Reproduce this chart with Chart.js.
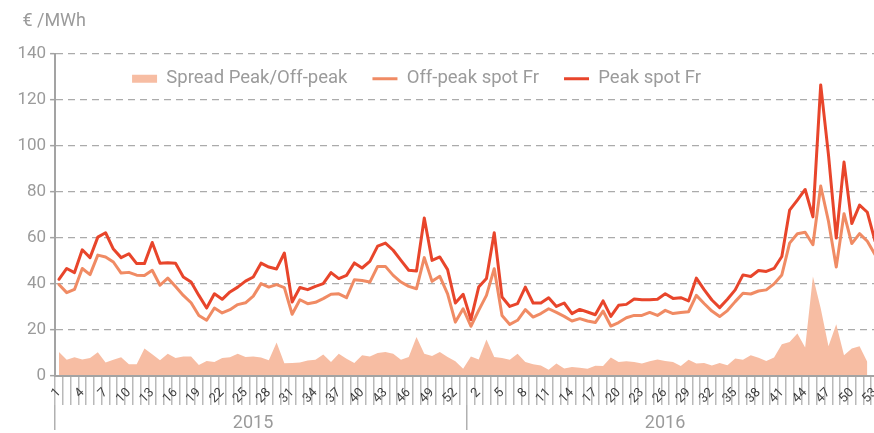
<!DOCTYPE html>
<html>
<head>
<meta charset="utf-8">
<script src="https://cdn.jsdelivr.net/npm/chart.js@4.4.1/dist/chart.umd.min.js"></script>
<style>
  html, body { margin: 0; padding: 0; background: #ffffff; overflow: hidden; }
  #wrap { width: 879px; height: 433px; }
</style>
</head>
<body>
<div id="wrap"><canvas id="c" width="879" height="433"></canvas></div>
<script>
// ---- categories / tick labels ----
const WEEKS_2015 = ['1','2','3','4','5','6','7','8','9','10','11','12','13','14','15','16','17','18','19','20',
  '21','22','23','24','25','26','27','28','29','30','31','32','33','34','35','36','37','38','39','40',
  '41','42','43','44','45','46','47','48','49','50','51','52','53'];
const WEEKS_2016 = ['1','2','3','4','5','6','7','8','9','10','11','12','13','14','15','16','17','18','19','20',
  '21','22','23','24','25','26','27','28','29','30','31','32','33','34','35','36','37','38','39','40',
  '41','42','43','44','45','46','47','48','49','50','51','52','53'];
const YEARS = ['2015', '2016'];
const Y_TICKS = [0, 20, 40, 60, 80, 100, 120, 140];
const UNIT = '€ /MWh';

// ---- series values (€/MWh) ----
const PEAK = [
  42.0, 46.7, 44.9, 54.8, 51.4, 60.3, 62.2, 55.1, 51.4, 53.1,
  48.8, 48.8, 58.0, 49.0, 49.2, 49.0, 43.0, 40.8, 35.0, 29.5,
  35.7, 33.3, 36.5, 38.6, 41.2, 43.0, 49.0, 47.3, 46.5, 53.4,
  32.1, 38.4, 37.5, 38.9, 40.1, 44.9, 42.3, 43.7, 49.1, 46.9,
  49.8, 56.4, 57.7, 54.6, 50.2, 45.9, 45.6, 68.6, 50.2, 51.7,
  46.2, 31.7, 35.5, 24.5, 38.6, 42.3, 62.2, 34.3, 30.2, 31.4,
  38.6, 31.7, 31.7, 34.0, 30.2, 31.7, 27.1, 28.9, 27.8, 26.6,
  32.6, 25.9, 30.7, 31.1, 33.4, 33.1, 33.1, 33.3, 35.7, 33.7,
  34.0, 32.6, 42.5, 37.5, 33.0, 29.7, 33.3, 37.4, 43.9, 43.2,
  45.8, 45.4, 46.7, 51.9, 72.0, 76.4, 81.0, 69.1, 126.4, 96.0,
  59.9, 92.9, 66.2, 74.2, 71.1, 58.5
];
const OFFPEAK = [
  39.7, 36.2, 37.6, 46.7, 44.0, 52.5, 51.7, 49.5, 44.7, 45.0,
  43.8, 43.6, 45.9, 39.4, 42.5, 38.9, 35.0, 31.8, 26.3, 24.2,
  29.5, 27.4, 28.8, 31.0, 31.8, 34.7, 40.1, 38.6, 39.7, 38.4,
  26.8, 33.1, 31.4, 32.0, 33.6, 35.5, 35.7, 34.0, 41.8, 41.5,
  40.8, 47.6, 47.6, 43.7, 40.8, 38.9, 37.9, 51.4, 41.1, 43.3,
  35.7, 23.4, 29.2, 21.6, 28.5, 35.0, 46.6, 26.3, 22.4, 24.2,
  28.8, 25.6, 27.1, 29.2, 27.6, 25.9, 23.9, 24.9, 23.9, 23.2,
  28.2, 21.7, 23.2, 25.3, 26.3, 26.3, 27.6, 26.3, 28.5, 27.1,
  27.6, 27.9, 35.0, 31.5, 28.2, 25.8, 28.4, 32.3, 35.9, 35.6,
  36.9, 37.4, 40.0, 43.9, 57.7, 61.8, 62.4, 57.0, 82.5, 67.2,
  47.3, 70.5, 57.5, 61.8, 58.5, 52.7
];
const SPREAD = [
  10.4, 7.1, 8.1, 7.2, 7.8, 10.3, 5.9, 7.1, 8.1, 5.1,
  5.1, 11.9, 9.4, 6.8, 9.7, 7.8, 8.5, 8.5, 4.8, 6.5,
  6.1, 7.8, 8.1, 9.7, 8.2, 8.5, 8.0, 6.8, 14.5, 5.5,
  5.6, 5.9, 6.7, 7.1, 9.3, 6.1, 9.7, 7.5, 5.6, 9.0,
  8.5, 10.0, 10.4, 9.7, 7.1, 8.2, 16.9, 9.7, 8.7, 10.4,
  8.2, 6.4, 3.2, 8.5, 7.2, 15.8, 8.2, 7.8, 7.1, 9.7,
  6.1, 5.1, 4.6, 2.7, 5.4, 3.3, 3.9, 3.6, 3.2, 4.5,
  4.3, 8.0, 6.1, 6.4, 6.1, 5.4, 6.4, 7.2, 6.5, 6.1,
  4.3, 7.1, 5.4, 5.6, 4.6, 5.6, 4.7, 7.6, 7.1, 9.0,
  7.9, 6.5, 8.0, 13.8, 14.8, 18.5, 12.4, 43.2, 29.4, 12.9,
  22.5, 9.0, 11.9, 12.9, 6.1
];

// ---- styles ----
const GREY_TEXT = '#9b9b9b';
const AXIS_GREY = '#a3a3a3';
const COL_PEAK = '#e8452b';
const COL_OFF = '#f08b64';
const COL_SPREAD = '#f7bda3';

Chart.defaults.font.family = 'Roboto';

const WEEK_LABELS = WEEKS_2015.concat(WEEKS_2016);

// places the built-in legend inside the plot area and nudges the title
const placeLegend = {
  id: 'placeLegend',
  afterLayout(chart) {
    const ca = chart.chartArea;
    const lg = chart.legend;
    if (lg) {
      lg.left = ca.left + 52;
      lg.top = ca.top - 9;
      lg.height = 60;
      lg.bottom = lg.top + 60;
    }
    const tb = chart.titleBlock;
    if (tb) {
      tb.left += 9;
      tb.right += 9;
    }
  }
};

new Chart(document.getElementById('c'), {
  type: 'line',
  data: {
    labels: WEEK_LABELS,
    datasets: [
      {
        label: 'Peak spot Fr',
        data: PEAK,
        borderColor: COL_PEAK,
        backgroundColor: COL_PEAK,
        borderWidth: 3,
        borderJoinStyle: 'round',
        borderCapStyle: 'round',
        pointRadius: 0,
        pointStyle: 'line',
        fill: false,
        tension: 0
      },
      {
        label: 'Off-peak spot Fr',
        data: OFFPEAK,
        borderColor: COL_OFF,
        backgroundColor: COL_OFF,
        borderWidth: 3,
        borderJoinStyle: 'round',
        borderCapStyle: 'round',
        pointRadius: 0,
        pointStyle: 'line',
        fill: false,
        tension: 0
      },
      {
        label: 'Spread Peak/Off-peak',
        data: SPREAD,
        borderColor: COL_SPREAD,
        backgroundColor: COL_SPREAD,
        borderWidth: 0,
        pointRadius: 0,
        pointStyle: 'rect',
        fill: 'origin',
        tension: 0
      }
    ]
  },
  options: {
    responsive: false,
    animation: false,
    devicePixelRatio: 1,
    layout: { padding: { left: 13.4, right: 0, top: 0, bottom: 0 } },
    plugins: {
      tooltip: { enabled: false },
      title: {
        display: true,
        text: UNIT,
        align: 'start',
        color: GREY_TEXT,
        font: { size: 18, weight: 'normal' },
        padding: { top: 11, bottom: 20 }
      },
      legend: {
        display: true,
        position: 'top',
        align: 'start',
        reverse: true,
        maxHeight: 1,
        labels: {
          usePointStyle: true,
          pointStyleWidth: 25,
          boxHeight: 8,
          padding: 25,
          color: GREY_TEXT,
          font: { size: 18.5 }
        }
      }
    },
    scales: {
      x: {
        type: 'category',
        position: 'bottom',
        offset: true,
        grid: {
          display: true,
          drawOnChartArea: false,
          drawTicks: true,
          tickLength: 29,
          offset: true,
          color: '#b9b9b9',
          lineWidth: 1.5
        },
        border: { display: true, color: AXIS_GREY, width: 2, z: 1 },
        ticks: {
          autoSkip: false,
          minRotation: 45,
          maxRotation: 45,
          padding: -20,
          color: '#3f3f3f',
          font: { size: 13 },
          callback: function (value, index) {
            return index % 3 === 0 ? this.getLabelForValue(value) : '';
          }
        },
        afterFit: function (scale) { scale.height = 29; }
      },
      year: {
        type: 'category',
        labels: YEARS,
        position: 'bottom',
        offset: true,
        grid: {
          display: true,
          drawOnChartArea: false,
          drawTicks: true,
          tickLength: 25,
          offset: true,
          color: '#b0b0b0',
          lineWidth: 1.5
        },
        border: { display: false },
        ticks: {
          autoSkip: false,
          maxRotation: 0,
          minRotation: 0,
          padding: -17,
          labelOffset: -8,
          color: GREY_TEXT,
          font: { size: 18 }
        },
        afterFit: function (scale) { scale.height = 28; }
      },
      y: {
        min: Y_TICKS[0],
        max: Y_TICKS[Y_TICKS.length - 1],
        afterBuildTicks: function (scale) {
          scale.ticks = Y_TICKS.map(v => ({ value: v }));
        },
        ticks: {
          padding: 4,
          color: GREY_TEXT,
          font: { size: 17 }
        },
        grid: {
          color: '#ababab',
          lineWidth: 1.3,
          drawTicks: true,
          tickLength: 5,
          tickColor: AXIS_GREY,
          tickWidth: 1.5
        },
        border: { display: true, color: AXIS_GREY, width: 2, dash: [7, 5] }
      }
    }
  },
  plugins: [placeLegend]
});
</script>
</body>
</html>
